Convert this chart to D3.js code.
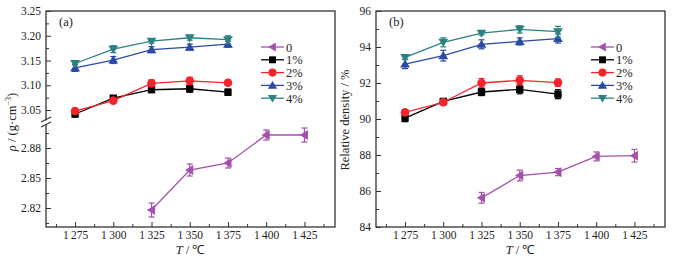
<!DOCTYPE html>
<html>
<head>
<meta charset="utf-8">
<script src="https://cdn.jsdelivr.net/npm/d3@7"></script>
<style>
  body { margin: 0; background: #fff; }
  svg { display: block; font-family: "Liberation Serif", "Times New Roman", serif; }
</style>
</head>
<body>
<div id="chart"></div>
<script>
// temperatures (°C)
const tempsDoped = [1275, 1300, 1325, 1350, 1375];
const tempsPure = [1325, 1350, 1375, 1400, 1425];
const xTicks = [1275, 1300, 1325, 1350, 1375, 1400, 1425];

const seriesNames = ["0", "1%", "2%", "3%", "4%"];
const seriesColors = ["#a64fae", "#000000", "#f5232a", "#2a4aa6", "#2b8282"];
const seriesSymbols = ["left", "square", "circle", "up", "down"];

// (a) density, g/cm3
const rho0 = [2.818, 2.858, 2.865, 2.893, 2.893];
const rho0Err = [0.007, 0.006, 0.005, 0.005, 0.007];
const rho1 = [3.042, 3.074, 3.091, 3.093, 3.086];
const rho1Err = [0.006, 0.004, 0.005, 0.007, 0.006];
const rho2 = [3.048, 3.069, 3.104, 3.109, 3.105];
const rho2Err = [0.005, 0.003, 0.007, 0.007, 0.005];
const rho3 = [3.135, 3.151, 3.172, 3.177, 3.183];
const rho3Err = [0.007, 0.007, 0.006, 0.006, 0.006];
const rho4 = [3.144, 3.173, 3.189, 3.196, 3.192];
const rho4Err = [0.003, 0.007, 0.004, 0.005, 0.008];

// (b) relative density, %
const rd0 = [85.62, 86.86, 87.05, 87.92, 87.96];
const rd0Err = [0.3, 0.3, 0.2, 0.25, 0.35];
const rd1 = [90.05, 90.98, 91.5, 91.65, 91.38];
const rd1Err = [0.2, 0.15, 0.2, 0.25, 0.25];
const rd2 = [90.37, 90.93, 92.0, 92.15, 92.02];
const rd2Err = [0.15, 0.1, 0.25, 0.25, 0.2];
const rd3 = [93.05, 93.52, 94.15, 94.31, 94.47];
const rd3Err = [0.25, 0.3, 0.25, 0.2, 0.25];
const rd4 = [93.42, 94.26, 94.77, 94.98, 94.85];
const rd4Err = [0.1, 0.25, 0.1, 0.2, 0.3];

// (a) broken y axis
const rhoUpperTicks = [3.05, 3.10, 3.15, 3.20, 3.25];
const rhoUpperMinor = [3.075, 3.125, 3.175, 3.225];
const rhoLowerTicks = [2.82, 2.85, 2.88];
const rhoLowerMinor = [2.805, 2.835, 2.865, 2.895];
// (b) y axis
const rdTicks = [84, 86, 88, 90, 92, 94, 96];
const rdMinor = [85, 87, 89, 91, 93, 95];

const W = 677, H = 258;
const svg = d3.select("#chart").append("svg").attr("width", W).attr("height", H);

const frameTop = 11, frameBottom = 227;
const xDomain = [1256, 1445];

function symbolPath(kind, size) {
  const s = size;
  if (kind === "square") return d3.symbol(d3.symbolSquare, s * s * 0.75)();
  if (kind === "circle") return d3.symbol(d3.symbolCircle, s * s * 0.8)();
  const h = s * 0.55;
  if (kind === "up") return `M0,${-h}L${h * 1.05},${h * 0.75}L${-h * 1.05},${h * 0.75}Z`;
  if (kind === "down") return `M0,${h}L${h * 1.05},${-h * 0.75}L${-h * 1.05},${-h * 0.75}Z`;
  if (kind === "left") return `M${-h},0L${h * 0.75},${-h * 1.05}L${h * 0.75},${h * 1.05}Z`;
}

function drawSeries(g, x, y, temps, vals, errs, i) {
  const color = seriesColors[i];
  const pts = temps.map((t, k) => ({t, v: vals[k], e: errs[k]}));
  g.append("path")
    .datum(pts)
    .attr("fill", "none")
    .attr("stroke", color)
    .attr("stroke-width", 1.3)
    .attr("d", d3.line().x(d => x(d.t)).y(d => y(d.v)));
  const eb = g.append("g").attr("stroke", color).attr("stroke-width", 1.2);
  pts.forEach(d => {
    const cx = x(d.t), y1 = y(d.v + d.e), y2 = y(d.v - d.e);
    eb.append("line").attr("x1", cx).attr("x2", cx).attr("y1", y1).attr("y2", y2);
    eb.append("line").attr("x1", cx - 3).attr("x2", cx + 3).attr("y1", y1).attr("y2", y1);
    eb.append("line").attr("x1", cx - 3).attr("x2", cx + 3).attr("y1", y2).attr("y2", y2);
  });
  g.append("g").selectAll("path")
    .data(pts)
    .join("path")
    .attr("transform", d => `translate(${x(d.t)},${y(d.v)})`)
    .attr("d", symbolPath(seriesSymbols[i], 8.5))
    .attr("fill", color);
}

function drawLegend(g, lx, ly) {
  seriesNames.forEach((name, i) => {
    const yy = ly + i * 12.8;
    g.append("line")
      .attr("x1", lx).attr("x2", lx + 23).attr("y1", yy).attr("y2", yy)
      .attr("stroke", seriesColors[i]).attr("stroke-width", 1.3);
    g.append("path")
      .attr("transform", `translate(${lx + 11.5},${yy})`)
      .attr("d", symbolPath(seriesSymbols[i], 8))
      .attr("fill", seriesColors[i]);
    g.append("text")
      .attr("x", lx + 25).attr("y", yy + 4.5)
      .attr("font-size", 12.5).attr("fill", "#222")
      .text(name);
  });
}

function styleAxis(g) {
  g.selectAll(".domain").remove();
  g.selectAll(".tick line").attr("stroke", "#333").attr("stroke-width", 1);
  g.selectAll(".tick text").attr("font-size", 11.5).attr("fill", "#222")
    .attr("font-family", "Liberation Serif, serif");
}

function xAxisDraw(g, x) {
  const fmt = d => String(d).replace(/^(\d)(\d{3})$/, "$1\u2009$2");
  g.append("g").attr("transform", `translate(0,${frameBottom})`)
    .call(d3.axisBottom(x).tickValues(xTicks).tickSize(-5).tickPadding(4).tickFormat(fmt))
    .call(styleAxis);
  g.append("g").attr("transform", `translate(0,${frameBottom})`)
    .call(d3.axisBottom(x).tickValues(xTicks.map(t => t - 12.5).concat([1437.5])).tickSize(-3).tickFormat(""))
    .call(styleAxis);
}

function frame(g, left, right) {
  g.append("rect")
    .attr("x", left).attr("y", frameTop)
    .attr("width", right - left).attr("height", frameBottom - frameTop)
    .attr("fill", "none").attr("stroke", "#333").attr("stroke-width", 1.3);
}

function xLabel(g, cx) {
  const t = g.append("text").attr("x", cx).attr("y", 254)
    .attr("text-anchor", "middle").attr("font-size", 12.5).attr("fill", "#222");
  t.append("tspan").attr("font-style", "italic").text("T");
  t.append("tspan").text(" / \u2103");
}

// ---------- panel (a) ----------
(function () {
  const left = 46, right = 335;
  const g = svg.append("g");
  const x = d3.scaleLinear().domain(xDomain).range([left, right]);
  const yUp = d3.scaleLinear().domain([3.02, 3.25]).range([124.9, frameTop]);
  const yLow = d3.scaleLinear().domain([2.801, 2.903]).range([frameBottom, 125]);

  frame(g, left, right);
  xAxisDraw(g, x);

  const ax = g.append("g").attr("transform", `translate(${left},0)`);
  ax.append("g").call(d3.axisLeft(yUp).tickValues(rhoUpperTicks).tickSize(-5).tickPadding(5).tickFormat(d3.format(".2f"))).call(styleAxis);
  ax.append("g").call(d3.axisLeft(yUp).tickValues(rhoUpperMinor).tickSize(-3).tickFormat("")).call(styleAxis);
  ax.append("g").call(d3.axisLeft(yLow).tickValues(rhoLowerTicks).tickSize(-5).tickPadding(5).tickFormat(d3.format(".2f"))).call(styleAxis);
  ax.append("g").call(d3.axisLeft(yLow).tickValues(rhoLowerMinor).tickSize(-3).tickFormat("")).call(styleAxis);

  // axis break
  g.append("rect").attr("x", left - 2).attr("y", 120.5).attr("width", 4).attr("height", 4).attr("fill", "#fff");
  [119.5, 124.5].forEach(yy => {
    g.append("line").attr("x1", left - 5).attr("x2", left + 5).attr("y1", yy + 2.5).attr("y2", yy - 2.5)
      .attr("stroke", "#333").attr("stroke-width", 1.1);
  });

  const plot = g.append("g");
  drawSeries(plot, x, yLow, tempsPure, rho0, rho0Err, 0);
  drawSeries(plot, x, yUp, tempsDoped, rho1, rho1Err, 1);
  drawSeries(plot, x, yUp, tempsDoped, rho2, rho2Err, 2);
  drawSeries(plot, x, yUp, tempsDoped, rho3, rho3Err, 3);
  drawSeries(plot, x, yUp, tempsDoped, rho4, rho4Err, 4);

  drawLegend(g, 261, 47);
  g.append("text").attr("x", 59).attr("y", 26).attr("font-size", 12.5).attr("fill", "#222").text("(a)");
  xLabel(g, 190);

  const yl = g.append("text").attr("transform", "translate(16,122) rotate(-90)")
    .attr("text-anchor", "middle").attr("font-size", 12.5).attr("fill", "#222");
  yl.append("tspan").attr("font-style", "italic").text("\u03c1");
  yl.append("tspan").text(" / (g\u00b7cm");
  yl.append("tspan").attr("font-size", 8).attr("dy", -5).text("\u22123");
  yl.append("tspan").attr("dy", 5).text(")");
})();

// ---------- panel (b) ----------
(function () {
  const left = 376, right = 665;
  const g = svg.append("g");
  const x = d3.scaleLinear().domain(xDomain).range([left, right]);
  const y = d3.scaleLinear().domain([84, 96]).range([frameBottom, frameTop]);

  frame(g, left, right);
  xAxisDraw(g, x);

  const ax = g.append("g").attr("transform", `translate(${left},0)`);
  ax.append("g").call(d3.axisLeft(y).tickValues(rdTicks).tickSize(-5).tickPadding(5)).call(styleAxis);
  ax.append("g").call(d3.axisLeft(y).tickValues(rdMinor).tickSize(-3).tickFormat("")).call(styleAxis);

  const plot = g.append("g");
  drawSeries(plot, x, y, tempsPure, rd0, rd0Err, 0);
  drawSeries(plot, x, y, tempsDoped, rd1, rd1Err, 1);
  drawSeries(plot, x, y, tempsDoped, rd2, rd2Err, 2);
  drawSeries(plot, x, y, tempsDoped, rd3, rd3Err, 3);
  drawSeries(plot, x, y, tempsDoped, rd4, rd4Err, 4);

  drawLegend(g, 591, 47);
  g.append("text").attr("x", 389).attr("y", 26).attr("font-size", 12.5).attr("fill", "#222").text("(b)");
  xLabel(g, 520);

  g.append("text").attr("transform", "translate(349,120) rotate(-90)")
    .attr("text-anchor", "middle").attr("font-size", 12.5).attr("fill", "#222")
    .text("Relative density / %");
})();
</script>
</body>
</html>
